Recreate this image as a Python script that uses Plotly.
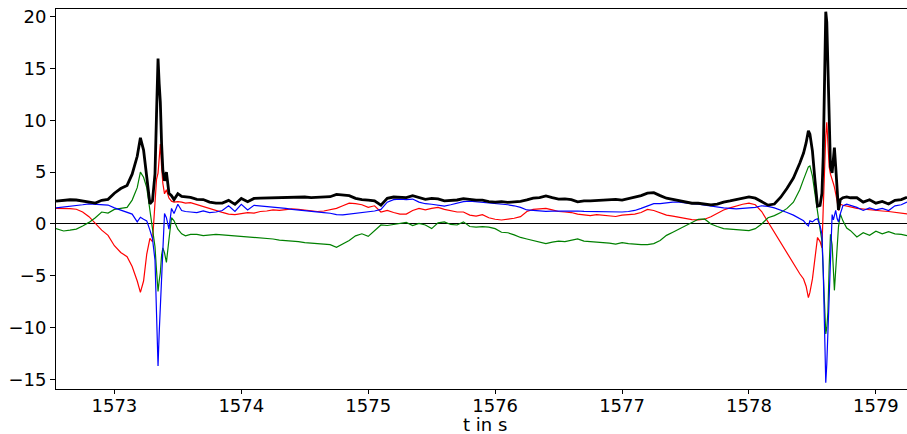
import numpy as np
import plotly.graph_objects as go

# sample times (s)
t = [
    1572.54, 1572.60, 1572.65, 1572.70, 1572.75, 1572.80, 1572.85, 1572.90, 1572.95, 1573.00,
    1573.05, 1573.10, 1573.14, 1573.18, 1573.205, 1573.23, 1573.255, 1573.28, 1573.30, 1573.32,
    1573.332, 1573.344, 1573.353, 1573.362, 1573.372, 1573.382, 1573.395, 1573.41, 1573.43, 1573.45,
    1573.47, 1573.50, 1573.53, 1573.56, 1573.60, 1573.65, 1573.70, 1573.75, 1573.80, 1573.85,
    1573.90, 1573.95, 1574.00, 1574.05, 1574.10, 1574.15, 1574.20, 1574.25, 1574.30, 1574.35,
    1574.40, 1574.45, 1574.50, 1574.55, 1574.60, 1574.65, 1574.70, 1574.75, 1574.80, 1574.85,
    1574.90, 1574.95, 1575.00, 1575.05, 1575.10, 1575.15, 1575.20, 1575.25, 1575.30, 1575.35,
    1575.40, 1575.45, 1575.50, 1575.55, 1575.60, 1575.65, 1575.70, 1575.75, 1575.80, 1575.85,
    1575.90, 1575.95, 1576.00, 1576.05, 1576.10, 1576.15, 1576.20, 1576.25, 1576.30, 1576.35,
    1576.40, 1576.45, 1576.50, 1576.55, 1576.60, 1576.65, 1576.70, 1576.75, 1576.80, 1576.85,
    1576.90, 1576.95, 1577.00, 1577.05, 1577.10, 1577.15, 1577.20, 1577.25, 1577.30, 1577.35,
    1577.40, 1577.45, 1577.50, 1577.55, 1577.60, 1577.65, 1577.70, 1577.75, 1577.80, 1577.85,
    1577.90, 1577.95, 1578.00, 1578.05, 1578.10, 1578.15, 1578.20, 1578.25, 1578.30, 1578.35,
    1578.40, 1578.43, 1578.45, 1578.468, 1578.48, 1578.50, 1578.52, 1578.54, 1578.56, 1578.575,
    1578.585, 1578.595, 1578.605, 1578.613, 1578.622, 1578.632, 1578.642, 1578.655, 1578.665, 1578.673,
    1578.683, 1578.695, 1578.705, 1578.72, 1578.74, 1578.77, 1578.80, 1578.85, 1578.90, 1578.95,
    1579.00, 1579.05, 1579.10, 1579.15, 1579.20, 1579.245,
]

# field components
x_comp = [
    1.50, 1.50, 1.48, 1.42, 1.15, 0.70, 0.05, -0.60, -1.10, -2.10,
    -2.75, -3.15, -4.10, -5.50, -6.60, -5.50, -2.90, -1.40, -1.70, 2.50,
    4.30, 4.90, 6.50, 7.70, 5.50, 3.90, 2.90, 3.30, 2.50, 2.20,
    2.10, 2.15, 2.10, 2.00, 2.05, 1.85, 1.65, 1.45, 1.30, 1.12,
    0.95, 0.90, 1.00, 1.10, 1.05, 1.20, 1.25, 1.35, 1.30, 1.35,
    1.45, 1.40, 1.35, 1.25, 1.20, 1.25, 1.35, 1.50, 1.75, 2.00,
    1.95, 1.85, 1.60, 1.75, 1.15, 1.30, 1.10, 0.95, 0.95, 1.30,
    1.50, 1.35, 1.50, 1.60, 1.40, 1.30, 1.15, 1.15, 0.85, 0.75,
    0.90, 0.60, 0.45, 0.38, 0.45, 0.55, 0.70, 1.20, 1.40, 1.45,
    1.50, 1.35, 1.20, 1.15, 1.10, 0.95, 0.85, 0.80, 0.90, 0.85,
    0.75, 0.72, 0.85, 0.90, 0.95, 1.10, 1.40, 1.30, 1.05, 0.85,
    0.75, 0.62, 0.50, 0.42, 0.40, 0.45, 0.70, 1.00, 1.35, 1.55,
    1.75, 1.90, 2.00, 1.85, 1.20, 0.20, -0.80, -1.90, -2.90, -3.80,
    -4.80, -5.30, -6.00, -7.10, -6.60, -5.30, -3.00, -1.30, -1.70, -2.30,
    1.50, 5.50, 8.50, 9.80, 7.50, 5.50, 4.80, 4.40, 3.90, 3.55,
    3.00, 2.20, 1.30, 1.90, 1.80, 1.75, 1.65, 1.50, 1.42, 1.35,
    1.30, 1.25, 1.20, 1.10, 1.03, 0.97,
]

y_comp = [
    -0.45, -0.68, -0.60, -0.50, -0.20, 0.15, 0.60, 1.15, 1.05, 1.40,
    1.50, 1.60, 2.30, 3.50, 5.00, 4.50, 3.50, 1.20, -0.30, -2.20,
    -4.50, -6.50, -5.50, -4.70, -3.00, -2.30, -2.80, -3.70, -1.50, 0.60,
    0.30, -0.50, -0.95, -1.15, -1.00, -1.00, -1.12, -1.05, -1.00, -1.05,
    -1.10, -1.15, -1.20, -1.25, -1.30, -1.32, -1.38, -1.45, -1.55, -1.58,
    -1.65, -1.70, -1.80, -1.85, -1.90, -1.95, -2.00, -2.25, -1.95, -1.60,
    -1.15, -0.95, -1.20, -0.60, -0.10, -0.15, -0.05, 0.10, 0.15, -0.15,
    0.05, -0.10, -0.45, 0.10, 0.20, -0.05, -0.10, 0.20, -0.25, -0.30,
    -0.25, -0.30, -0.45, -0.80, -0.85, -1.05, -1.30, -1.45, -1.60, -1.68,
    -1.90, -1.75, -1.65, -1.70, -1.60, -1.45, -1.65, -1.70, -1.72, -1.78,
    -1.85, -1.95, -1.80, -1.90, -1.98, -2.00, -2.00, -1.90, -1.60, -1.10,
    -0.80, -0.50, -0.20, 0.10, 0.45, 0.48, 0.00, -0.25, -0.45, -0.50,
    -0.55, -0.60, -0.65, -0.45, 0.00, 0.60, 0.80, 1.10, 1.50, 2.10,
    3.30, 4.30, 5.00, 5.50, 5.60, 4.60, 2.90, 1.00, -0.50, -1.60,
    -4.50, -7.50, -10.60, -10.00, -8.50, -4.00, -1.00, -2.00, -4.50, -6.40,
    -4.50, -1.50, -0.30, 0.95, 0.30, -0.40, -0.65, -1.25, -0.85, -1.10,
    -0.70, -0.95, -0.75, -0.95, -1.00, -1.12,
]

z_comp = [
    1.55, 1.62, 1.70, 1.75, 1.85, 1.94, 1.92, 1.88, 1.82, 1.55,
    1.35, 1.15, 0.95, 0.20, 0.65, 0.45, 0.30, -0.60, -1.40, -3.50,
    -8.50, -13.70, -10.50, -7.50, -4.50, -2.50, 1.00, 0.60, -0.50, 1.50,
    1.00, 1.90, 1.30, 1.20, 1.15, 1.10, 1.25, 1.10, 1.15, 1.30,
    1.75, 1.20, 1.90, 1.35, 1.80, 1.75, 1.70, 1.60, 1.55, 1.50,
    1.40, 1.35, 1.30, 1.20, 1.20, 1.10, 1.03, 0.90, 0.88, 0.95,
    1.00, 1.10, 1.15, 1.25, 1.40, 2.10, 2.35, 2.40, 2.35, 2.40,
    2.10, 1.95, 1.90, 1.80, 1.72, 1.85, 2.00, 2.15, 2.20, 2.15,
    2.10, 2.05, 2.00, 1.95, 1.85, 1.75, 1.60, 1.35, 1.30, 1.25,
    1.22, 1.23, 1.25, 1.28, 1.30, 1.25, 1.22, 1.20, 1.18, 1.15,
    1.12, 1.13, 1.15, 1.20, 1.30, 1.50, 1.70, 1.95, 1.95, 2.05,
    2.10, 2.10, 2.00, 1.95, 1.90, 1.80, 1.70, 1.60, 1.55, 1.50,
    1.45, 1.50, 1.55, 1.60, 1.75, 1.70, 1.55, 1.35, 1.10, 0.85,
    0.50, 0.30, 0.00, -0.20, 0.30, 0.20, 0.40, 0.50, -0.20, -1.00,
    -4.50, -12.00, -15.30, -13.50, -10.50, -6.50, -2.50, 0.90, 0.40, 0.80,
    1.30, 0.50, 0.20, 1.00, 1.75, 1.90, 1.80, 1.60, 1.30, 1.55,
    1.35, 1.50, 1.30, 1.75, 1.85, 2.10,
]

bx = np.array(x_comp)
by = np.array(y_comp)
bz = np.array(z_comp)
magnitude = np.sqrt(bx**2 + by**2 + bz**2)

x_ticks = [1573, 1574, 1575, 1576, 1577, 1578, 1579]
y_ticks = [-15, -10, -5, 0, 5, 10, 15, 20]
y_tick_text = ["\u221215", "\u221210", "\u22125", "0", "5", "10", "15", "20"]

fig = go.Figure()
for vals, col in [(bx, "#ff0000"), (by, "#008000"), (bz, "#0000ff")]:
    fig.add_trace(go.Scatter(x=t, y=vals, mode="lines",
                             line=dict(color=col, width=1.2), showlegend=False))
fig.add_trace(go.Scatter(x=t, y=magnitude, mode="lines",
                         line=dict(color="#000000", width=2.8), showlegend=False))

font = dict(family="DejaVu Sans", size=18, color="#000000")
fig.update_layout(
    width=907, height=434,
    margin=dict(l=56, r=0, t=9, b=45),
    paper_bgcolor="white", plot_bgcolor="white",
    font=font,
    xaxis=dict(range=[1572.54, 1579.245], tickvals=x_ticks,
               ticks="outside", ticklen=4, tickwidth=1, tickcolor="#000",
               ticklabelstandoff=-4,
               showline=True, linecolor="#000", linewidth=1, mirror=True,
               showgrid=False, zeroline=False, automargin=False),
    yaxis=dict(range=[-15.91, 20.72], tickvals=y_ticks, ticktext=y_tick_text,
               ticks="outside", ticklen=5, tickwidth=1, tickcolor="#000",
               showline=True, linecolor="#000", linewidth=1,
               showgrid=False, zeroline=True, zerolinecolor="#000", zerolinewidth=1,
               automargin=False),
    annotations=[dict(text="t in s", xref="paper", yref="paper",
                      x=0.5047, y=-0.094, xanchor="center", yanchor="middle",
                      showarrow=False, font=font)],
)

fig.write_html("out.html")
